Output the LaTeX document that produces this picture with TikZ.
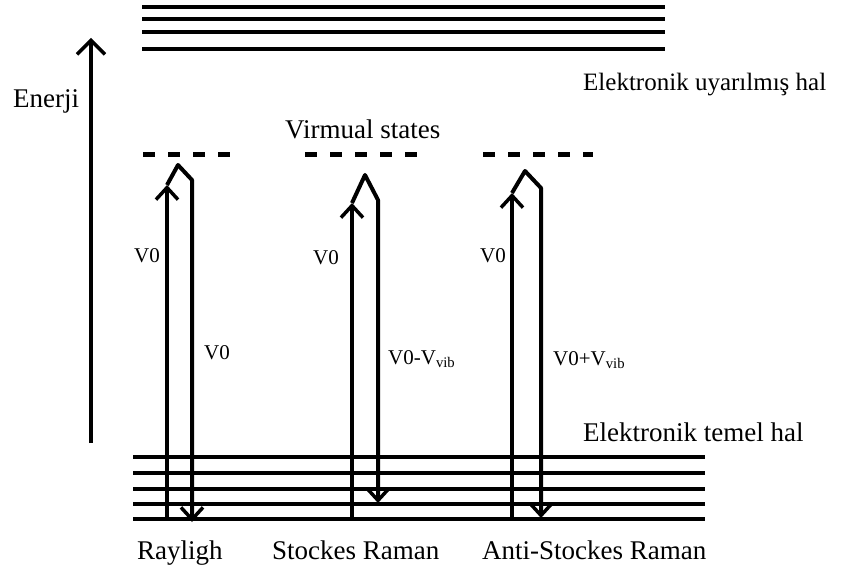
\documentclass[tikz,border=0pt]{standalone}
\usepackage{fontspec}
\setmainfont{Liberation Serif}
\usetikzlibrary{arrows.meta, positioning}

\tikzset{
  level/.style={line width=4.6pt},
  vstate/.style={line width=5pt, dash pattern=on 12pt off 13pt},
  photon/.style={line width=4pt, line join=round,
    -{Straight Barb[length=12pt,width=22pt,line width=3.5pt]}},
  bigtxt/.style={font=\fontsize{27}{30}\selectfont, anchor=base west, inner sep=0pt},
  freq/.style={font=\fontsize{21}{24}\selectfont, anchor=base west, inner sep=0pt},
}

\begin{document}
\begin{tikzpicture}[x=1pt,y=-1pt]
  \useasboundingbox (0,0) rectangle (854,572);

  % electronic levels
  \foreach \y in {7,19,32,49}
    \draw[level] (142,\y) -- (665,\y);
  \foreach \y in {457,473,489,504,519}
    \draw[level] (133,\y) -- (705,\y);

  % virtual states
  \draw[vstate] (143,155) -- (237,155);
  \draw[vstate] (305,155) -- (418,155);
  \draw[vstate] (483,155) -- (593,155);

  % energy axis
  \coordinate (ebot) at (91,443);
  \coordinate (etop) at (91,38);
  \draw[line width=4pt, -{Straight Barb[length=14pt,width=28pt,line width=3.5pt]}] (ebot) -- (etop);
  \node[bigtxt] (enerji) at (13,108) {Enerji};

  % Rayleigh
  \coordinate (r0) at (167,519);
  \coordinate (r1) at (167,185);
  \coordinate (r2) at (178,165);
  \coordinate (r3) at (192,180);
  \coordinate (r4) at (192,522);
  \draw[photon] (r0) -- (r1);
  \draw[photon] (r1) -- (r2) -- (r3) -- (r4);

  % Stokes
  \coordinate (s0) at (352,519);
  \coordinate (s1) at (352,203);
  \coordinate (s2) at (365,175);
  \coordinate (s3) at (378,200);
  \coordinate (s4) at (378,503);
  \draw[photon] (s0) -- (s1);
  \draw[photon] (s1) -- (s2) -- (s3) -- (s4);

  % anti-Stokes
  \coordinate (a0) at (512,519);
  \coordinate (a1) at (512,193);
  \coordinate (a2) at (525,171);
  \coordinate (a3) at (541,188);
  \coordinate (a4) at (541,518);
  \draw[photon] (a0) -- (a1);
  \draw[photon] (a1) -- (a2) -- (a3) -- (a4);

  % frequencies
  \node[freq] (ray in) at (134,262) {V0};
  \node[freq] (ray out) at (204,359) {V0};
  \node[freq] (sto in) at (313,264) {V0};
  \node[freq] (sto out) at (388,364) {V0-V\textsubscript{vib}};
  \node[freq] (ant in) at (480,262) {V0};
  \node[freq] (ant out) at (553,365) {V0+V\textsubscript{vib}};

  % labels
  \node[bigtxt, font=\fontsize{25}{28}\selectfont] (exc) at (583,91) {Elektronik uyarılmış hal};
  \node[bigtxt] (virt) at (285,139) {Virmual states};
  \node[bigtxt] (gnd) at (583,441) {Elektronik temel hal};
  \node[bigtxt] (ray) at (137,559) {Rayligh};
  \node[bigtxt] (sto) at (272,559) {Stockes Raman};
  \node[bigtxt] (ant) at (482,559) {Anti-Stockes Raman};
\end{tikzpicture}
\end{document}
